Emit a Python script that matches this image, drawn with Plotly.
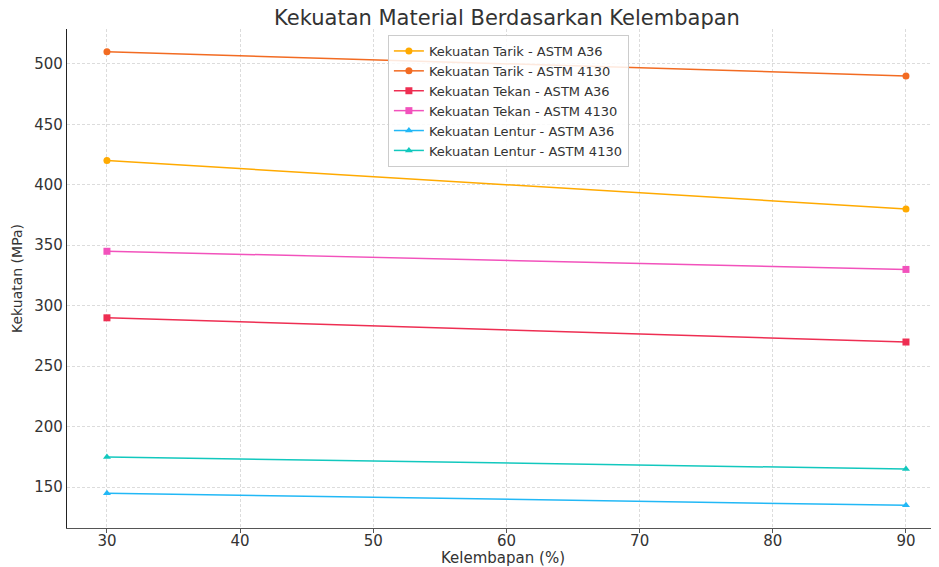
import plotly.graph_objects as go

kelembapan = [30, 90]
tarik_a36 = [420, 380]
tarik_4130 = [510, 490]
tekan_a36 = [290, 270]
tekan_4130 = [345, 330]
lentur_a36 = [145, 135]
lentur_4130 = [175, 165]

series = [
    ("Kekuatan Tarik - ASTM A36", tarik_a36, "#FFAA00", "circle"),
    ("Kekuatan Tarik - ASTM 4130", tarik_4130, "#F26B22", "circle"),
    ("Kekuatan Tekan - ASTM A36", tekan_a36, "#EE2E52", "square"),
    ("Kekuatan Tekan - ASTM 4130", tekan_4130, "#F252BC", "square"),
    ("Kekuatan Lentur - ASTM A36", lentur_a36, "#22B8F6", "triangle-up"),
    ("Kekuatan Lentur - ASTM 4130", lentur_4130, "#12C8BE", "triangle-up"),
]

fig = go.Figure()
for name, vals, color, sym in series:
    fig.add_trace(go.Scatter(
        x=kelembapan, y=vals, name=name, mode="lines+markers",
        line=dict(color=color, width=1.5),
        marker=dict(color=color, symbol=sym, size=7),
    ))

font = "DejaVu Sans, Verdana, sans-serif"
fig.update_layout(
    width=931, height=559,
    margin=dict(l=59, r=0, t=21, b=39, autoexpand=False),
    paper_bgcolor="white", plot_bgcolor="white",
    font=dict(family=font, color="#333333", size=15),
    title=dict(text="Kekuatan Material Berdasarkan Kelembapan", x=0.536, xanchor="center",
               yref="container", y=0.982, yanchor="middle", font=dict(size=21, color="#333333")),
    showlegend=True,
    legend=dict(x=0.368, y=0.988, xanchor="left", yanchor="top",
                bgcolor="rgba(255,255,255,0.85)", bordercolor="#cccccc", borderwidth=1,
                font=dict(size=13, color="#333333"), tracegroupgap=0),
)
fig.update_xaxes(
    range=[27, 92.48], tickvals=[30, 40, 50, 60, 70, 80, 90],
    showgrid=True, gridcolor="#dcdcdc", griddash="3px,2px", gridwidth=1,
    showline=True, linecolor="#555555", linewidth=1.2,
    ticks="outside", ticklen=4, tickcolor="#555555", ticklabelstandoff=-5,
    tickfont=dict(size=15),
    title=dict(text="Kelembapan (%)", font=dict(size=15), standoff=6),
    zeroline=False, automargin=False,
)
fig.update_yaxes(
    range=[116.25, 528.75], tickvals=[150, 200, 250, 300, 350, 400, 450, 500],
    showgrid=True, gridcolor="#dcdcdc", griddash="3px,2px", gridwidth=1,
    showline=True, linecolor="#222222", linewidth=1.2,
    ticks="",
    title=dict(text="Kekuatan (MPa)", font=dict(size=14), standoff=8),
    zeroline=False, automargin=False,
)
fig.write_html("out.html")
